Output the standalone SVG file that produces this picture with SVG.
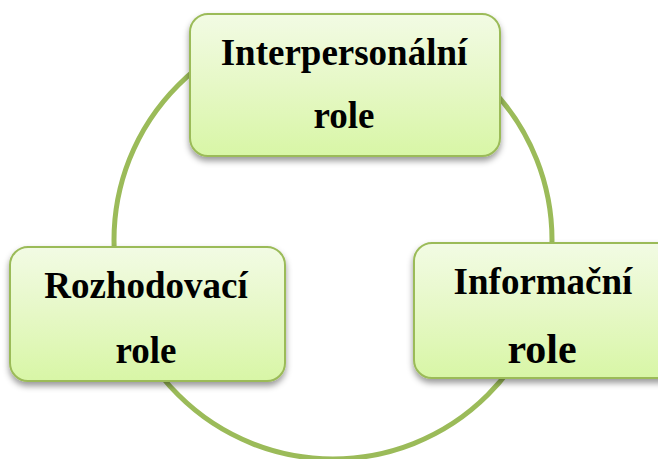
<svg xmlns="http://www.w3.org/2000/svg" width="658" height="459" viewBox="0 0 658 459">
  <style>
    .box { fill: url(#g); stroke: #9BBB59; stroke-width: 2; filter: url(#sh); }
    .t { font-family: "Liberation Serif", "Times New Roman", serif; font-weight: bold; font-size: 37px; fill: #000; text-anchor: middle; }
    .ring { fill: none; stroke: #9BBB59; stroke-width: 5; }
  </style>
  <defs>
    <linearGradient id="g" x1="0" y1="0" x2="0" y2="1">
      <stop offset="0" stop-color="#F2FBE4"/>
      <stop offset="0.5" stop-color="#E6F8C6"/>
      <stop offset="1" stop-color="#D8F6A6"/>
    </linearGradient>
    <filter id="sh" x="-10%" y="-10%" width="120%" height="130%">
      <feDropShadow dx="0" dy="4" stdDeviation="3" flood-color="#000" flood-opacity="0.4"/>
    </filter>
  </defs>
  <rect width="658" height="459" fill="#fff"/>
  <g id="connectors">
    <circle class="ring" cx="333" cy="240" r="219"/>
  </g>
  <g id="interpersonalni">
    <rect class="box" x="190" y="14" width="310" height="142" rx="18"/>
    <text class="t" x="344" y="65">Interpersonální</text>
    <text class="t" x="344" y="128">role</text>
  </g>
  <g id="rozhodovaci">
    <rect class="box" x="10" y="247" width="275" height="134" rx="18"/>
    <text class="t" x="146" y="298">Rozhodovací</text>
    <text class="t" x="146" y="363">role</text>
  </g>
  <g id="informacni">
    <rect class="box" x="414" y="243" width="275" height="135" rx="18"/>
    <text class="t" x="543" y="294">Informační</text>
    <text class="t" x="542" y="363" style="font-size:42px">role</text>
  </g>
</svg>
